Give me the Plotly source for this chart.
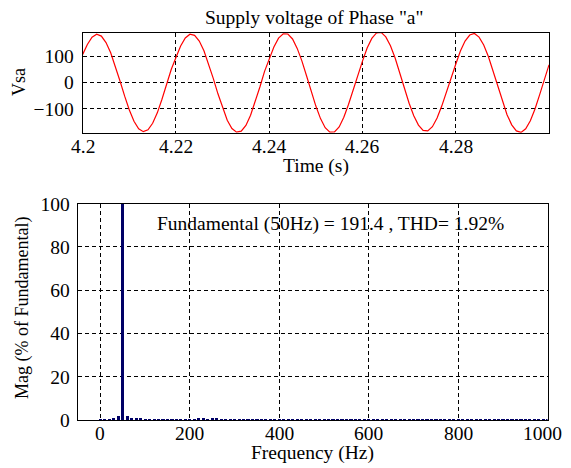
import plotly.graph_objects as go

# ---------------- data ----------------
# Top: supply voltage samples (1 ms spacing)
time_s = [round(4.2 + i * 0.001, 3) for i in range(101)]
vsa = [108, 146, 174, 185, 178, 153, 114, 63, 6, -52, -105, -148, -177, -188, -181, -156, -116, -64, -7, 51,
       96, 140, 171, 185, 181, 159, 122, 73, 16, -43, -98, -144, -176, -190, -186, -164, -125, -75, -17, 43,
       89, 136, 170, 187, 186, 167, 131, 83, 26, -33, -90, -138, -173, -190, -189, -170, -133, -84, -27, 33,
       82, 132, 169, 190, 192, 175, 141, 94, 37, -23, -79, -127, -163, -183, -185, -169, -136, -90, -36, 23,
       70, 121, 159, 182, 188, 174, 144, 100, 45, -13, -72, -123, -162, -185, -191, -177, -146, -101, -46, 13,
       68]

# Bottom: FFT spectrum (% of fundamental), bins every 10 Hz
freq_hz = list(range(0, 1001, 10))
mag_pct = [0.3, 0.6, 0.8, 1.1, 2.2, 100.0, 2.1, 1.1, 0.9, 0.9,
           0.7, 0.6, 0.5, 0.4, 0.5, 0.7, 0.6, 0.5, 0.5, 0.6,
           0.8, 0.7, 1.0, 0.9, 0.8, 1.1, 1.2, 0.8, 0.6, 0.4,
           0.5, 0.3, 0.4, 0.3, 0.3, 0.4, 0.3, 0.3, 0.3, 0.3,
           0.3, 0.3, 0.3, 0.3, 0.3, 0.3, 0.3, 0.2, 0.3, 0.3,
           0.3, 0.3, 0.2, 0.3, 0.3, 0.2, 0.3, 0.3, 0.2, 0.3,
           0.3, 0.2, 0.3, 0.2, 0.3, 0.3, 0.2, 0.3, 0.2, 0.3,
           0.2, 0.3, 0.2, 0.3, 0.2, 0.2, 0.3, 0.2, 0.3, 0.2,
           0.2, 0.3, 0.2, 0.2, 0.3, 0.2, 0.2, 0.2, 0.3, 0.2,
           0.2, 0.2, 0.2, 0.3, 0.2, 0.2, 0.2, 0.2, 0.2, 0.2,
           0.2]

top_xticks = [4.2, 4.22, 4.24, 4.26, 4.28]
top_xticktext = ["4.2", "4.22", "4.24", "4.26", "4.28"]
top_yticks = [-100, 0, 100]
bot_xticks = [0, 200, 400, 600, 800, 1000]
bot_xticktext = ["0", "200", "400", "600", "800", "1000"]
bot_yticks = [0, 20, 40, 60, 80, 100]

title_text = 'Supply voltage of Phase "a"'
annot_text = "Fundamental (50Hz) = 191.4 , THD= 1.92%"

# ---------------- figure ----------------
# the page body has an 8 px margin, so the figure starts at (8, 8) in the window
OFF = 8
W, H = 571 - OFF, 468 - OFF
FONT = "Liberation Serif, Times New Roman, serif"
FS = 19.5     # horizontal texts
FSV = 18      # rotated axis titles

fig = go.Figure()
fig.add_trace(go.Scatter(x=time_s, y=vsa, mode="lines",
                         line=dict(color="#ff0000", width=1.2),
                         xaxis="x", yaxis="y", showlegend=False))
fig.add_trace(go.Bar(x=freq_hz, y=mag_pct, width=7,
                     marker=dict(color="#000066", line=dict(width=0)),
                     xaxis="x2", yaxis="y2", showlegend=False))

def px_x(x):
    return (x - OFF) / W

def px_y(y):
    return 1 - (y - OFF) / H

axis_common = dict(showline=True, linecolor="black", linewidth=1, mirror=True,
                   showgrid=True, gridcolor="black", gridwidth=1, griddash="4px,3px",
                   zeroline=False, ticks="", automargin=False,
                   tickfont=dict(family=FONT, size=FS, color="black"))

fig.update_layout(
    width=W, height=H,
    margin=dict(l=0, r=0, t=0, b=0, pad=0, autoexpand=False),
    paper_bgcolor="white", plot_bgcolor="white",
    font=dict(family=FONT, size=FS, color="black"),
    bargap=0,
    xaxis=dict(domain=[px_x(82.7), px_x(549)], range=[4.2, 4.3], anchor="y",
               tickvals=top_xticks, showticklabels=False, **axis_common),
    yaxis=dict(domain=[px_y(132.7), px_y(32.7)], range=[-192, 191], anchor="x",
               tickvals=top_yticks, ticklabelstandoff=4, **axis_common),
    xaxis2=dict(domain=[px_x(77.7), px_x(547.5)], range=[-50, 1000], anchor="y2",
                tickvals=bot_xticks, showticklabels=False, **axis_common),
    yaxis2=dict(domain=[px_y(420), px_y(203.7)], range=[0, 100], anchor="x2",
                tickvals=bot_yticks, ticklabelstandoff=3, **axis_common),
)

def ann(text, x, y, angle=0, size=FS, xanchor="center", yanchor="middle"):
    fig.add_annotation(text=text, x=px_x(x), y=px_y(y), xref="paper", yref="paper",
                       showarrow=False, textangle=angle, xanchor=xanchor, yanchor=yanchor,
                       font=dict(family=FONT, size=size, color="black"))

# x tick labels placed in data coordinates along each x axis
for v, t in zip(top_xticks, top_xticktext):
    fig.add_annotation(text=t, x=v, xref="x", y=px_y(147), yref="paper", showarrow=False,
                       xanchor="center", yanchor="middle",
                       font=dict(family=FONT, size=FS, color="black"))
for v, t in zip(bot_xticks, bot_xticktext):
    fig.add_annotation(text=t, x=v, xref="x2", y=px_y(433), yref="paper", showarrow=False,
                       xanchor="center", yanchor="middle",
                       xshift=-5 if v == bot_xticks[-1] else 0,
                       font=dict(family=FONT, size=FS, color="black"))

ann(title_text, 314, 18)
ann("Time (s)", 316, 166)
ann("Vsa", 19, 82, angle=-90, size=FSV)
ann("Frequency (Hz)", 312, 453)
ann("Mag (% of Fundamental)", 22, 308, angle=-90, size=FSV)
ann(annot_text, 330, 224)

fig.write_html("out.html")
